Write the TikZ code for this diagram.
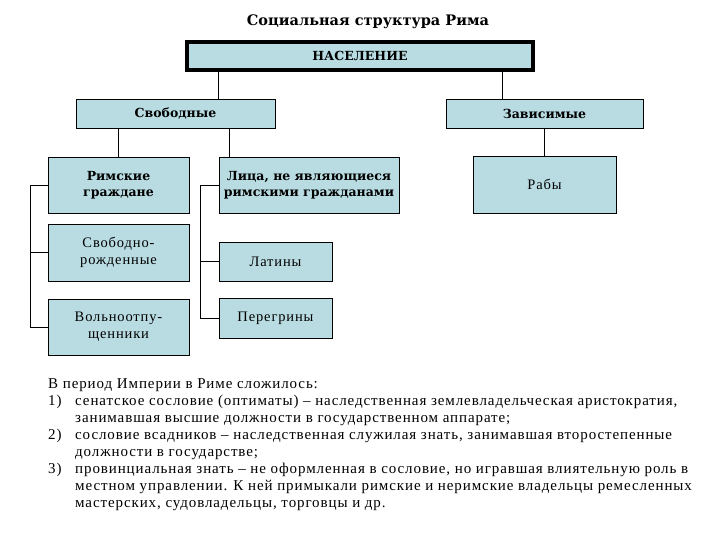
\documentclass[tikz,border=0pt]{standalone}
\usepackage{fontspec}
\setmainfont{Liberation Serif}
\newfontfamily\boxbold{DejaVu Serif}
\newfontfamily\plainfont[LetterSpace=6]{Liberation Serif}
\definecolor{paleblue}{RGB}{184,220,226}

\begin{document}
\begin{tikzpicture}[x=1pt,y=-1pt,
  box/.style={draw, fill=paleblue, align=center, inner sep=1pt, line width=0.9pt},
  hdr/.style={box, font=\boxbold\bfseries\fontsize{12.5}{16}\selectfont},
  plain/.style={box, font=\plainfont\fontsize{14.5}{17}\selectfont},
  link/.style={line width=0.8pt}]
\useasboundingbox (0,0) rectangle (720,540);

% title and top level
\node[font=\boxbold\bfseries\fontsize{14.5}{18}\selectfont] (title) at (368,22) {Социальная структура Рима};
\node[hdr, line width=4pt, minimum width=346, minimum height=28] (nas) at (360,56) {НАСЕЛЕНИЕ};

% free and dependent
\node[hdr, minimum width=199, minimum height=29] (svob) at (175.5,113.5) {Свободные};
\node[hdr, minimum width=197, minimum height=29] (zav) at (544.5,113.5) {Зависимые};

% third level
\node[hdr, minimum width=141, minimum height=56] (rim) at (118.5,185) {Римские\\граждане};
\node[hdr, minimum width=180, minimum height=56] (lica) at (309,185) {Лица, не являющиеся\\римскими гражданами};
\node[plain, minimum width=143, minimum height=57] (rab) at (544.5,184.5) {Рабы};

\node[plain, minimum width=141, minimum height=57] (svrozh) at (118.5,252.5) {Свободно-\\рожденные};
\node[plain, minimum width=141, minimum height=56] (volno) at (118.5,327) {Вольноотпу-\\щенники};
\node[plain, minimum width=113, minimum height=39] (lat) at (275.5,261.5) {Латины};
\node[plain, minimum width=113, minimum height=40] (per) at (275.5,318) {Перегрины};

% connectors
\draw[link] ([xshift=42.5pt]svob.north) -- ([xshift=42.5pt]svob.north |- nas.south);
\draw[link] ([xshift=-42.5pt]zav.north) -- ([xshift=-42.5pt]zav.north |- nas.south);
\draw[link] (rim.north) -- (rim.north |- svob.south);
\draw[link] ([xshift=-80pt]lica.north) -- ([xshift=-80pt]lica.north |- svob.south);
\draw[link] (rab.north) -- (rab.north |- zav.south);

\draw[link] (rim.west) -| ([xshift=-17pt]volno.west) -- (volno.west);
\draw[link] (svrozh.west) -- ([xshift=-17pt]svrozh.west);
\draw[link] (lica.west) -| ([xshift=-18pt]per.west) -- (per.west);
\draw[link] (lat.west) -- ([xshift=-18pt]lat.west);

% notes under the chart
\node[anchor=north west, inner sep=0pt, align=left, font=\plainfont\fontsize{15}{17}\selectfont] (notes) at (48,376) {%
\begin{tabular}{@{}p{27pt}@{}l@{}}
\multicolumn{2}{@{}l}{В период Империи в Риме сложилось:}\\
1) & сенатское сословие (оптиматы) – наследственная землевладельческая аристократия,\\
   & занимавшая высшие должности в государственном аппарате;\\
2) & сословие всадников – наследственная служилая знать, занимавшая второстепенные\\
   & должности в государстве;\\
3) & провинциальная знать – не оформленная в сословие, но игравшая влиятельную роль в\\
   & местном управлении. К ней примыкали римские и неримские владельцы ремесленных\\
   & мастерских, судовладельцы, торговцы и др.
\end{tabular}};
\end{tikzpicture}
\end{document}
